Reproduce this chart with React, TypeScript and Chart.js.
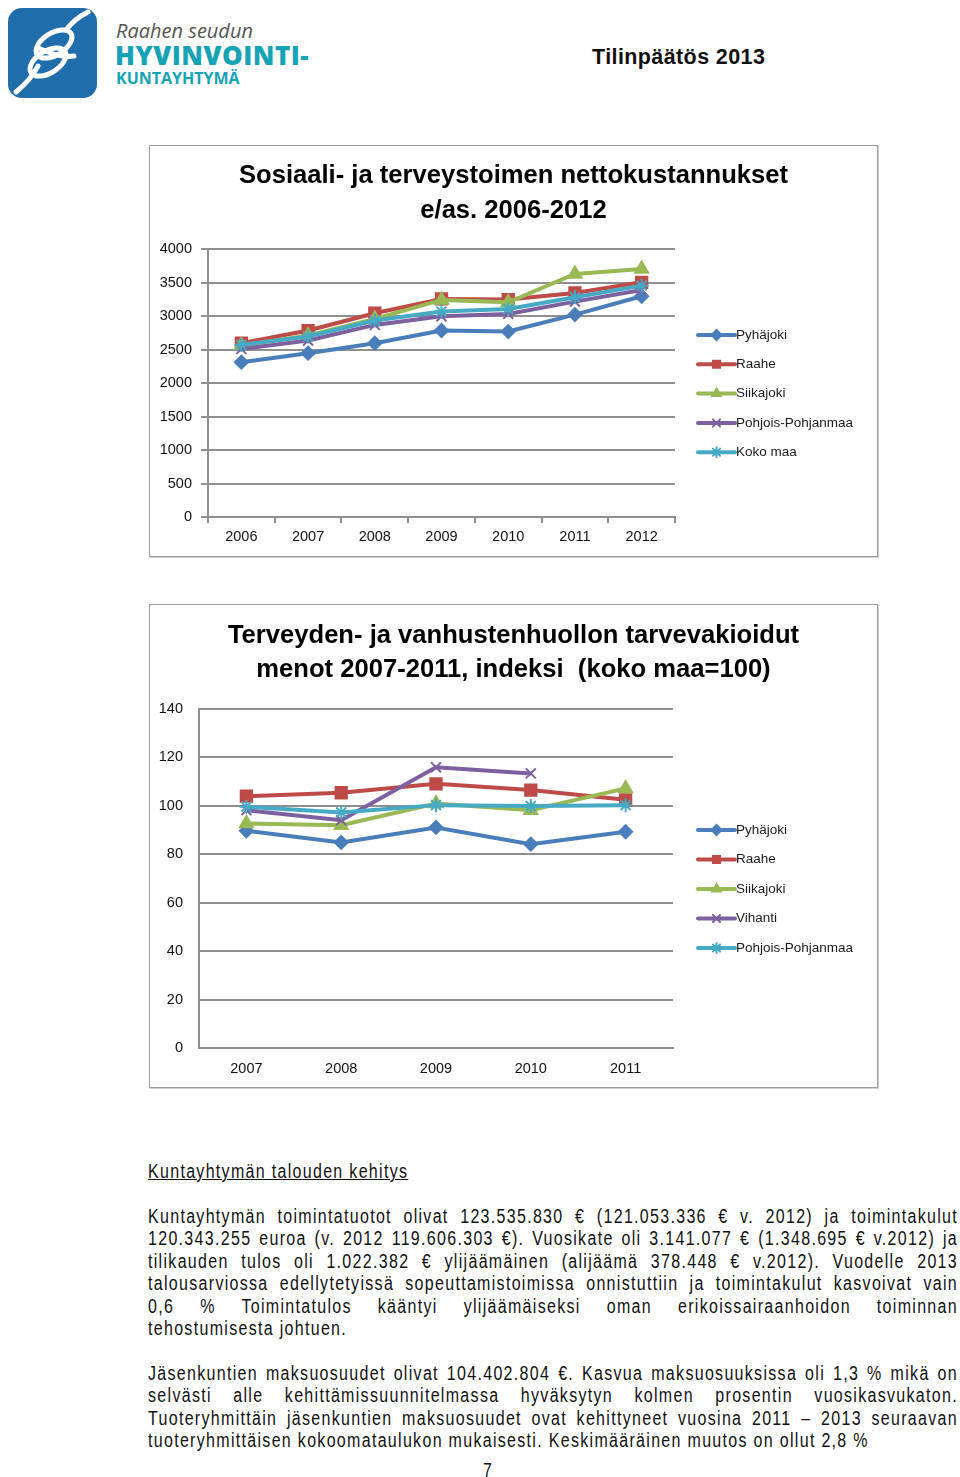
import React, { useEffect, useRef } from 'react';
import { Chart, registerables } from 'chart.js';
import { drawPoint } from 'chart.js/helpers';

Chart.register(...registerables);

// ---------- Data: chart 1 ----------
const years1 = ['2006', '2007', '2008', '2009', '2010', '2011', '2012'];
const pyhajoki1 = [2311, 2445, 2594, 2783, 2768, 3021, 3294];
const raahe1 = [2594, 2783, 3041, 3255, 3245, 3344, 3503];
const siikajoki1 = [2559, 2708, 2957, 3240, 3205, 3627, 3702];
const pohjois1 = [2509, 2634, 2867, 2996, 3031, 3215, 3389];
const kokomaa1 = [2569, 2693, 2932, 3066, 3106, 3280, 3453];
const title1 = ['Sosiaali- ja terveystoimen nettokustannukset', 'e/as. 2006-2012'];

// ---------- Data: chart 2 ----------
const years2 = ['2007', '2008', '2009', '2010', '2011'];
const pyhajoki2 = [89.7, 84.9, 91.1, 84.2, 89.3];
const raahe2 = [104.0, 105.4, 109.1, 106.5, 102.5];
const siikajoki2 = [92.7, 92.0, 101.0, 98.2, 107.2];
const vihanti2: (number | null)[] = [98.2, 94.1, 115.9, 113.4, null];
const pohjois2 = [99.6, 97.3, 100.3, 99.9, 100.3];
const title2 = ['Terveyden- ja vanhustenhuollon tarvevakioidut', 'menot 2007-2011, indeksi  (koko maa=100)'];

const BLUE = '#4a7ebb';
const RED = '#be4b48';
const GREEN = '#98b954';
const PURPLE = '#7d60a0';
const CYAN = '#46aac5';
const GRID = '#8f8f8f';
const FONT = "'Liberation Sans', Arial, sans-serif";

function ds(label: string, data: (number | null)[], color: string, style: string, radius: number, order: number) {
  return {
    label,
    data,
    borderColor: color,
    backgroundColor: color,
    borderWidth: 4,
    pointStyle: style,
    pointRadius: radius,
    pointBackgroundColor: color,
    pointBorderColor: color,
    pointBorderWidth: 2,
    tension: 0,
    order,
  };
}

const lineLegend = {
  id: 'lineLegend',
  afterDraw(chart: any, _args: any, opts: any) {
    const ctx = chart.ctx;
    ctx.save();
    chart.data.datasets.forEach((d: any, i: number) => {
      const y = opts.top + i * opts.spacing;
      const x = opts.left;
      ctx.strokeStyle = d.borderColor;
      ctx.fillStyle = d.borderColor;
      ctx.lineWidth = 4;
      ctx.lineCap = 'round';
      ctx.beginPath();
      ctx.moveTo(x, y);
      ctx.lineTo(x + opts.lineLen, y);
      ctx.stroke();
      ctx.lineWidth = 2;
      drawPoint(ctx, { pointStyle: d.pointStyle, radius: 5, rotation: 0, borderWidth: 2 } as any, x + opts.lineLen / 2, y);
      ctx.fillStyle = '#1a1a1a';
      ctx.font = `13.5px ${FONT}`;
      ctx.textBaseline = 'middle';
      ctx.textAlign = 'left';
      ctx.fillText(d.label, x + opts.lineLen + 1, y);
    });
    ctx.restore();
  },
};

const boxTitle = {
  id: 'boxTitle',
  afterDraw(chart: any, _args: any, opts: any) {
    const ctx = chart.ctx;
    ctx.save();
    ctx.font = `bold ${opts.size}px ${FONT}`;
    ctx.fillStyle = '#000';
    ctx.textAlign = 'center';
    ctx.textBaseline = 'middle';
    opts.lines.forEach((t: string, i: number) => ctx.fillText(t, chart.width / 2, opts.top + i * opts.lineHeight));
    ctx.restore();
  },
};

function ChartBox({ top, height, config }: { top: number; height: number; config: any }) {
  const ref = useRef<HTMLCanvasElement | null>(null);
  useEffect(() => {
    if (!ref.current) return;
    const chart = new Chart(ref.current, config);
    return () => chart.destroy();
  }, []);
  return (
    <div
      style={{
        position: 'absolute',
        left: 149,
        top,
        width: 729,
        height,
        boxSizing: 'border-box',
        border: '1px solid #9c9c9c',
        boxShadow: '1px 1px 0 #d0d0d0',
        background: '#fff',
      }}
    >
      <canvas ref={ref} width={727} height={height - 2} style={{ display: 'block', width: 727, height: height - 2 }} />
    </div>
  );
}

const tickFont = { family: FONT, size: 14.5 };
const plainTick = (v: any) => String(v);

const config1 = {
  type: 'line',
  data: {
    labels: years1,
    datasets: [
      ds('Pyhäjoki', pyhajoki1, BLUE, 'rectRot', 6.5, 4),
      ds('Raahe', raahe1, RED, 'rect', 8, 3),
      ds('Siikajoki', siikajoki1, GREEN, 'triangle', 7.5, 2),
      ds('Pohjois-Pohjanmaa', pohjois1, PURPLE, 'crossRot', 7, 1),
      ds('Koko maa', kokomaa1, CYAN, 'star', 7, 0),
    ],
  },
  options: {
    responsive: false,
    animation: false,
    devicePixelRatio: 1,
    layout: { padding: { left: 0, right: 202, top: 103, bottom: 0 } },
    plugins: {
      legend: { display: false },
      tooltip: { enabled: false },
      title: { display: false },
      boxTitle: { lines: title1, size: 25.6, top: 30, lineHeight: 35 },
      lineLegend: { left: 548, top: 189, spacing: 29.3, lineLen: 37 },
    },
    scales: {
      x: {
        offset: true,
        afterFit: (s: any) => { s.height = 39; },
        grid: { display: true, drawOnChartArea: false, drawTicks: true, tickLength: 6, offset: true, color: GRID, lineWidth: 2 },
        border: { display: true, color: GRID, width: 2 },
        ticks: { color: '#111', font: tickFont, padding: 5 },
      },
      y: {
        min: 0,
        max: 4000,
        afterFit: (s: any) => { s.width = 58; },
        grid: { color: GRID, lineWidth: 2, drawTicks: true, tickLength: 7 },
        border: { display: true, color: GRID, width: 2 },
        ticks: { stepSize: 500, color: '#111', font: tickFont, padding: 9, callback: plainTick },
      },
    },
  },
  plugins: [lineLegend, boxTitle],
};

const config2 = {
  type: 'line',
  data: {
    labels: years2,
    datasets: [
      ds('Pyhäjoki', pyhajoki2, BLUE, 'rectRot', 6.5, 4),
      ds('Raahe', raahe2, RED, 'rect', 8, 3),
      ds('Siikajoki', siikajoki2, GREEN, 'triangle', 7.5, 2),
      ds('Vihanti', vihanti2, PURPLE, 'crossRot', 7, 1),
      ds('Pohjois-Pohjanmaa', pohjois2, CYAN, 'star', 7, 0),
    ],
  },
  options: {
    responsive: false,
    animation: false,
    devicePixelRatio: 1,
    layout: { padding: { left: 0, right: 204, top: 104, bottom: 0 } },
    plugins: {
      legend: { display: false },
      tooltip: { enabled: false },
      title: { display: false },
      boxTitle: { lines: title2, size: 25.6, top: 31, lineHeight: 34 },
      lineLegend: { left: 548, top: 225, spacing: 29.5, lineLen: 37 },
    },
    scales: {
      x: {
        offset: true,
        afterFit: (s: any) => { s.height = 39; },
        grid: { display: false, drawTicks: false, tickLength: 0 },
        border: { display: true, color: GRID, width: 2 },
        ticks: { color: '#111', font: tickFont, padding: 12 },
      },
      y: {
        min: 0,
        max: 140,
        afterFit: (s: any) => { s.width = 49; },
        grid: { color: GRID, lineWidth: 2, drawTicks: false },
        border: { display: true, color: GRID, width: 2 },
        ticks: { stepSize: 20, color: '#111', font: tickFont, padding: 16, callback: plainTick },
      },
    },
  },
  plugins: [lineLegend, boxTitle],
};

const heading = 'Kuntayhtymän talouden kehitys';
const para1 = [
  'Kuntayhtymän toimintatuotot olivat 123.535.830 € (121.053.336 € v. 2012) ja toimintakulut',
  '120.343.255 euroa (v. 2012 119.606.303 €). Vuosikate oli 3.141.077 € (1.348.695 € v.2012) ja',
  'tilikauden tulos oli 1.022.382 € ylijäämäinen (alijäämä 378.448 € v.2012). Vuodelle 2013',
  'talousarviossa edellytetyissä sopeuttamistoimissa onnistuttiin ja toimintakulut kasvoivat vain',
  '0,6 % Toimintatulos kääntyi ylijäämäiseksi oman erikoissairaanhoidon toiminnan',
  'tehostumisesta johtuen.',
];
const para2 = [
  'Jäsenkuntien maksuosuudet olivat 104.402.804 €. Kasvua maksuosuuksissa oli 1,3 % mikä on',
  'selvästi alle kehittämissuunnitelmassa hyväksytyn kolmen prosentin vuosikasvukaton.',
  'Tuoteryhmittäin jäsenkuntien maksuosuudet ovat kehittyneet vuosina 2011 – 2013 seuraavan',
  'tuoteryhmittäisen kokoomataulukon mukaisesti. Keskimääräinen muutos on ollut 2,8 %',
];

const SCALE = 0.82;
const textStyle: any = {
  fontFamily: FONT,
  fontSize: 19.5,
  letterSpacing: 1.6,
  color: '#111',
  whiteSpace: 'nowrap',
  transform: `scaleX(${SCALE})`,
  transformOrigin: 'left top',
};

function Lines({ lines, firstCenter }: { lines: string[]; firstCenter: number }) {
  return (
    <>
      {lines.map((l, i) => {
        const last = i === lines.length - 1;
        return (
          <div
            key={i}
            style={{
              ...textStyle,
              position: 'absolute',
              left: 148,
              width: 810 / SCALE,
              top: firstCenter + i * 22.5 - 11.25,
              height: 22.5,
              lineHeight: '22.5px',
              textAlign: last ? 'left' : 'justify',
              textAlignLast: last ? 'left' : 'justify',
            }}
          >
            {l}
          </div>
        );
      })}
    </>
  );
}

function Logo() {
  return (
    <>
      <svg style={{ position: 'absolute', left: 8, top: 8 }} width={89} height={90} viewBox="0 0 89 90">
        <rect x={0} y={0} width={89} height={90} rx={14} fill="#1f6eab" />
        <g fill="none" stroke="#fff" strokeWidth={5} strokeLinecap="round">
          <ellipse cx={46} cy={36} rx={20} ry={11} transform="rotate(-32 46 36)" />
          <ellipse cx={40} cy={54} rx={20} ry={11} transform="rotate(-32 40 54)" />
          <path d="M8 84 C 20 74, 26 66, 30 58" />
          <path d="M58 22 C 64 14, 72 8, 80 4" />
          <path d="M30 40 C 40 44, 52 50, 66 48" />
        </g>
      </svg>
      <div style={{ position: 'absolute', left: 116, top: 19, fontFamily: "'Open Sans', sans-serif", fontStyle: 'italic', fontSize: 20, color: '#555', lineHeight: '24px' }}>
        Raahen seudun
      </div>
      <div style={{ position: 'absolute', left: 115, top: 40, fontFamily: "'Open Sans', sans-serif", fontWeight: 800, fontSize: 26, color: '#17a3b6', lineHeight: '30px', letterSpacing: 0.5 }}>
        HYVINVOINTI-
      </div>
      <div style={{ position: 'absolute', left: 116, top: 68, fontFamily: "'Open Sans', sans-serif", fontWeight: 700, fontSize: 16, color: '#17a3b6', lineHeight: '20px' }}>
        KUNTAYHTYMÄ
      </div>
    </>
  );
}

export default function App() {
  return (
    <div style={{ position: 'absolute', left: 0, top: 0, width: 960, height: 1477, background: '#fff', overflow: 'hidden' }}>
      <Logo />
      <div style={{ position: 'absolute', left: 592, top: 44, fontFamily: FONT, fontWeight: 'bold', fontSize: 21.5, color: '#111', lineHeight: '26px', letterSpacing: 0.4 }}>
        Tilinpäätös 2013
      </div>
      <ChartBox top={145} height={412} config={config1} />
      <ChartBox top={604} height={484} config={config2} />
      <div
        style={{
          ...textStyle,
          position: 'absolute',
          left: 148,
          top: 1160,
          lineHeight: '22px',
          textDecoration: 'underline',
        }}
      >
        {heading}
      </div>
      <Lines lines={para1} firstCenter={1216} />
      <Lines lines={para2} firstCenter={1373} />
      <div style={{ ...textStyle, position: 'absolute', left: 483, top: 1459, lineHeight: '22px' }}>7</div>
    </div>
  );
}
